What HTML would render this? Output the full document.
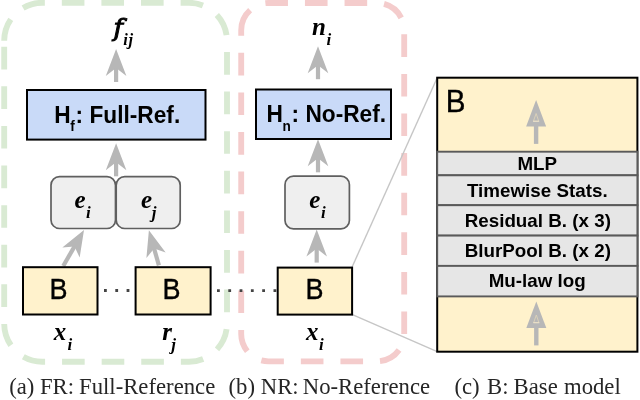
<!DOCTYPE html>
<html><head><meta charset="utf-8">
<style>
html,body{margin:0;padding:0;background:#fff;}
body{width:640px;height:400px;overflow:hidden;}
svg{display:block;will-change:transform;}
.sb{font-family:"Liberation Sans",Arial,sans-serif;font-weight:bold;fill:#000;}
.sr{font-family:"Liberation Sans",Arial,sans-serif;fill:#000;stroke:#000;stroke-width:0.35px;}
.tbi{font-family:"Liberation Serif","Times New Roman",serif;font-weight:bold;font-style:italic;fill:#000;}
.tr{font-family:"Liberation Serif","Times New Roman",serif;fill:#262626;}
</style></head>
<body>
<svg width="640" height="400" viewBox="0 0 640 400">
<rect width="640" height="400" fill="#fff"/>

<!-- dashed group boxes -->
<path d="M4.2,40.8 A38,38 0 0 1 42.2,2.8 H189.0 A38,38 0 0 1 227.0,40.8 V323.7 A38,38 0 0 1 189.0,361.7 H42.2 A38,38 0 0 1 4.2,323.7 Z" fill="none" stroke="#d9ead3" stroke-width="5.85" stroke-dasharray="22.63 16.97"/>
<path d="M241.2,30.2 A27.2,27.2 0 0 1 268.4,3.0 H377.0 A27.2,27.2 0 0 1 404.2,30.2 V334.1 A27.2,27.2 0 0 1 377.0,361.3 H268.4 A27.2,27.2 0 0 1 241.2,334.1 Z" fill="none" stroke="#f4cccc" stroke-width="5.85" stroke-dasharray="22.63 16.97"/>

<!-- zoom lines -->
<line x1="352" y1="267.2" x2="437.2" y2="77.7" stroke="#c6c6c6" stroke-width="1.4"/>
<line x1="352.4" y1="314.6" x2="437.2" y2="351.7" stroke="#c6c6c6" stroke-width="1.4"/>

<!-- dotted connectors -->
<line x1="104" y1="290.5" x2="134" y2="290.5" stroke="#444" stroke-width="2.8" stroke-dasharray="2.8 8.5"/>
<line x1="217" y1="290.7" x2="277" y2="290.7" stroke="#444" stroke-width="2.8" stroke-dasharray="2.8 8.5"/>

<!-- arrows -->
<g fill="#b7b7b7">
<g transform="translate(116.1,49) rotate(0)"><rect x="-2.1" y="18" width="4.2" height="15"/><path d="M0,0 L-10.3,27 L0,19 L10.3,27 Z"/></g>
<g transform="translate(116.1,143.3) rotate(0)"><rect x="-2.1" y="18" width="4.2" height="15"/><path d="M0,0 L-10.3,27 L0,19 L10.3,27 Z"/></g>
<g transform="translate(318.0,46.2) rotate(0)"><rect x="-2.1" y="18" width="4.2" height="15"/><path d="M0,0 L-10.3,27 L0,19 L10.3,27 Z"/></g>
<g transform="translate(318.0,139.3) rotate(0)"><rect x="-2.1" y="18" width="4.2" height="15"/><path d="M0,0 L-10.3,27 L0,19 L10.3,27 Z"/></g>
<g transform="translate(316.7,229.6) rotate(0)"><rect x="-2.1" y="18" width="4.2" height="15"/><path d="M0,0 L-10.3,27 L0,19 L10.3,27 Z"/></g>
<g transform="translate(84,230) rotate(30)"><rect x="-2.1" y="18" width="4.2" height="23.5"/><path d="M0,0 L-10,26 L0,19 L10,26 Z"/></g>
<g transform="translate(148.9,230.3) rotate(-15.9)"><rect x="-2.1" y="18" width="4.2" height="18.5"/><path d="M0,0 L-10,26 L0,19 L10,26 Z"/></g>
</g>

<!-- H boxes -->
<rect x="27" y="90" width="178.5" height="49.6" fill="#c9daf8" stroke="#000" stroke-width="2"/>
<rect x="256" y="89.5" width="135" height="49.5" fill="#c9daf8" stroke="#000" stroke-width="2"/>
<text class="sb" transform="translate(54.3,122.7) scale(1,1.04)" font-size="22.7" >H<tspan font-size="13.6" dy="8.4" dx="-0.5">f</tspan><tspan dy="-8.4" dx="0.9">: Full-Ref.</tspan></text>
<text class="sb" transform="translate(266.5,122.0) scale(1,1.04)" font-size="22.7" >H<tspan font-size="13.6" dy="8.4" dx="-0.5">n</tspan><tspan dy="-8.4" dx="0.9">: No-Ref.</tspan></text>

<!-- e boxes -->
<g fill="#efefef" stroke="#5f5f5f" stroke-width="1.7">
<rect x="51" y="176.7" width="64.5" height="51.8" rx="8.5" ry="8.5"/>
<rect x="116.2" y="176.7" width="64" height="51.8" rx="8.5" ry="8.5"/>
<rect x="285" y="176.2" width="64.4" height="52.7" rx="8.5" ry="8.5"/>
</g>
<text class="tbi" transform="translate(74.4,207.7) scale(1,1.04)" font-size="25" >e<tspan font-size="17" dy="9.9" dx="0.6">i</tspan></text>
<text class="tbi" transform="translate(141.1,207.7) scale(1,1.04)" font-size="25" >e<tspan font-size="17" dy="9.6" dx="-0.5">j</tspan></text>
<text class="tbi" transform="translate(309.2,207.7) scale(1,1.04)" font-size="25" >e<tspan font-size="17" dy="9.9" dx="0.6">i</tspan></text>

<!-- B boxes -->
<g fill="#fff2cc" stroke="#000" stroke-width="2">
<rect x="23" y="267.2" width="74.5" height="47.3"/>
<rect x="135.6" y="267.2" width="75" height="47.3"/>
<rect x="277.7" y="267.6" width="74.4" height="47"/>
</g>
<text class="sr" transform="translate(49.5,298.8) scale(1,1.07)" font-size="27" >B</text>
<text class="sr" transform="translate(162.5,298.8) scale(1,1.07)" font-size="27" >B</text>
<text class="sr" transform="translate(305.5,298.8) scale(1,1.07)" font-size="27" >B</text>

<!-- labels -->
<text transform="translate(113.4,35.7) scale(1.1,1)" font-family="'DejaVu Serif',serif" font-style="italic" font-size="23.6" fill="#000" stroke="#000" stroke-width="0.95">f</text>
<text class="tbi" transform="translate(123.3,44.8) scale(1,1.04)" font-size="16.5" letter-spacing="0.5">ij</text>
<text class="tbi" transform="translate(312.0,34.6) scale(1,1.04)" font-size="25" >n<tspan font-size="17" dy="9.9" dx="0.6">i</tspan></text>
<text class="tbi" transform="translate(53.8,340.4) scale(1,1.04)" font-size="25" >x<tspan font-size="17" dy="9.1" dx="1.2">i</tspan></text>
<text class="tbi" transform="translate(162.2,340.4) scale(1,1.04)" font-size="25" >r<tspan font-size="17" dy="8.8" dx="-0.6">j</tspan></text>
<text class="tbi" transform="translate(306.0,340.4) scale(1,1.04)" font-size="25" >x<tspan font-size="17" dy="9.3" dx="0.6">i</tspan></text>

<!-- big B box -->
<rect x="437.2" y="77.7" width="200.2" height="274.0" fill="#fff2cc" stroke="#000" stroke-width="2"/>
<text class="sr" transform="translate(445.8,111.5) scale(1,1.07)" font-size="29.6" >B</text>
<g fill="#e6e6e6" stroke="#5a5a5a" stroke-width="1.9">
<rect x="437.2" y="151.7" width="200.2" height="23.6"/>
<rect x="437.2" y="175.3" width="200.2" height="29.9"/>
<rect x="437.2" y="205.2" width="200.2" height="30.4"/>
<rect x="437.2" y="235.6" width="200.2" height="30.3"/>
<rect x="437.2" y="265.9" width="200.2" height="30.5"/>
</g>
<g text-anchor="middle">
<text class="sb" transform="translate(537.3,170.3) scale(1,0.98)" font-size="18.8" >MLP</text>
<text class="sb" transform="translate(537.3,196.7) scale(1,0.98)" font-size="18.8" >Timewise Stats.</text>
<text class="sb" transform="translate(537.8,226.8) scale(1,0.98)" font-size="18.8" >Residual B. (x 3)</text>
<text class="sb" transform="translate(537.8,257.0) scale(1,0.98)" font-size="18.8" >BlurPool B. (x 2)</text>
<text class="sb" transform="translate(537.2,286.7) scale(1,0.98)" font-size="18.8" >Mu-law log</text>
</g>
<g fill="#b7b7b7">
<g transform="translate(536.1,99.9)"><rect x="-2.2" y="25.5" width="4.4" height="18.5"/><path d="M0,0 L-10,26.5 L10,26.5 Z"/><path d="M0,13.6 L-2.6,21.2 L2.6,21.2 Z" fill="none" stroke="#ddd3b9" stroke-width="0.9"/><rect x="-3.1" y="20.9" width="6.2" height="0.9" fill="#efe6cd"/></g>
<g transform="translate(536.3,301.4)"><rect x="-2.2" y="25.5" width="4.4" height="18.5"/><path d="M0,0 L-10,26.5 L10,26.5 Z"/><path d="M0,13.6 L-2.6,21.2 L2.6,21.2 Z" fill="none" stroke="#ddd3b9" stroke-width="0.9"/><rect x="-3.1" y="20.9" width="6.2" height="0.9" fill="#efe6cd"/></g>
</g>

<!-- captions -->
<g transform="translate(0,394.2) scale(1,0.98)">
<text class="tr" y="0" font-size="22.7"><tspan x="9.2">(a)</tspan> <tspan x="39.9">FR:</tspan> <tspan x="79.1">Full-Reference</tspan></text>
<text class="tr" y="0" font-size="22.7"><tspan x="228.5">(b)</tspan> <tspan x="260.8">NR:</tspan> <tspan x="302.8">No-Reference</tspan></text>
<text class="tr" y="0" font-size="22.7"><tspan x="454.5">(c)</tspan> <tspan x="487.1">B:</tspan> <tspan x="513.6">Base</tspan> <tspan x="564">model</tspan></text>
</g>
</svg>
</body></html>
